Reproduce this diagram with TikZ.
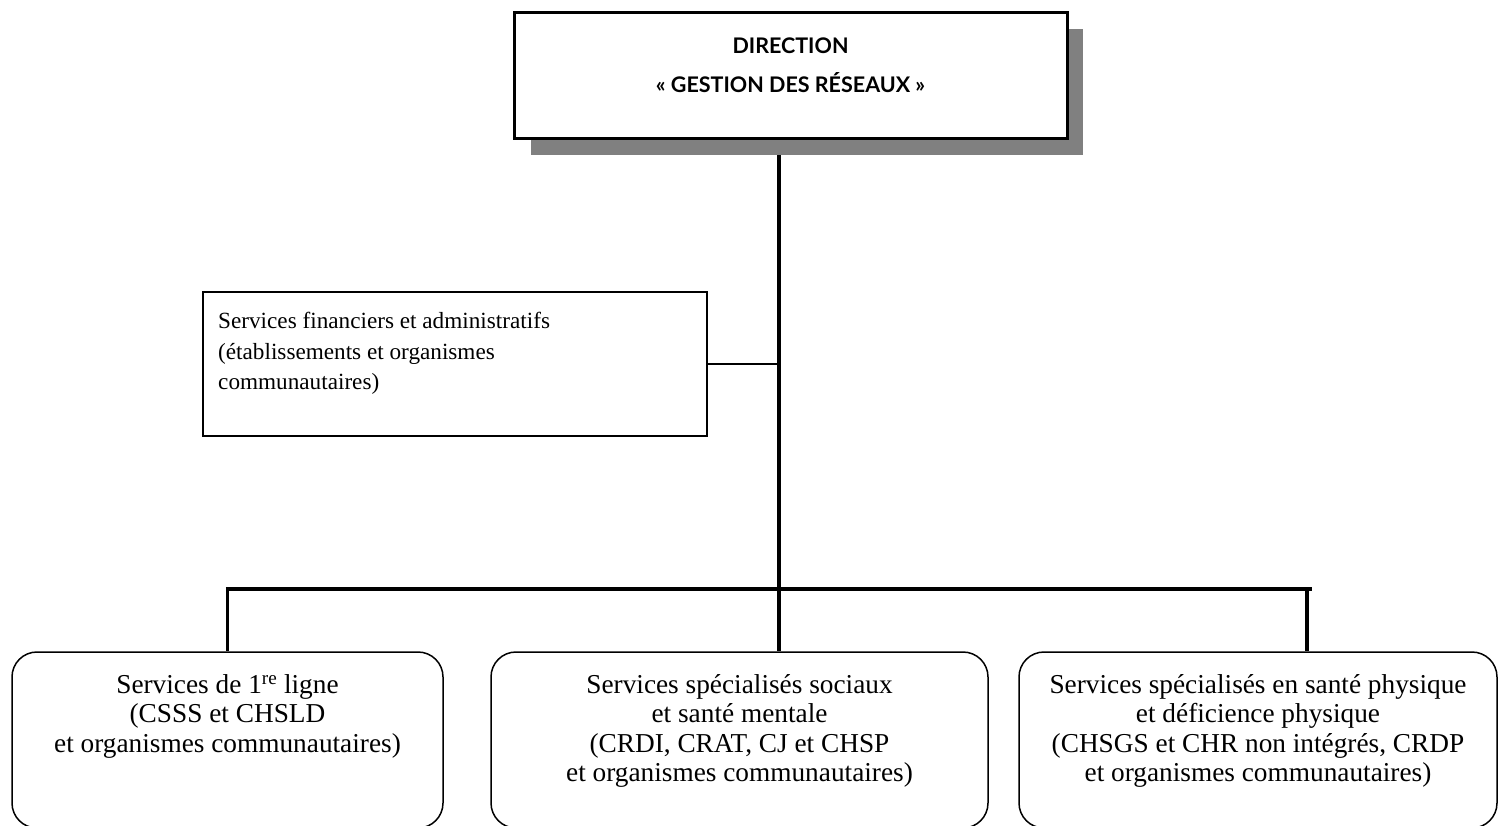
\documentclass[tikz,border=0pt]{standalone}
\usepackage{fontspec}
\setmainfont{Liberation Serif}
\newfontfamily\dirfont{Lato}
\begin{document}
\begin{tikzpicture}[x=1pt,y=-1pt,
  thickline/.style={line width=3.5pt},
  thinline/.style={line width=1.5pt},
  shadowcol/.style={fill=black!50},
  topbox/.style={draw, line width=3pt, fill=white, minimum width=553pt, minimum height=126pt, inner sep=0pt},
  finbox/.style={draw, thinline, minimum width=504pt, minimum height=144pt, inner sep=0pt},
  servbox/.style={draw, thinline, rounded corners=25pt, minimum height=176pt, inner sep=0pt},
  dirtext/.style={font=\dirfont\bfseries\fontsize{21.5}{25}\selectfont, anchor=base, inner sep=0pt},
  fintext/.style={font=\fontsize{23.2}{30.5}\selectfont, align=left, anchor=north west, inner sep=0pt},
  servtext/.style={font=\fontsize{27.3}{29.5}\selectfont, align=center, anchor=north, inner sep=0pt}
]
\useasboundingbox (0,0) rectangle (1504,825);
\clip (0,0) rectangle (1504,825);

% coordinates
\coordinate (tj) at (779,589);
\coordinate (barend) at (1312,589);
\coordinate (d3) at (1307,589);

% service boxes
\node[servbox, minimum width=431pt] (b1) at (227.5,740) {};
\node[servbox, minimum width=497pt] (b2) at (739.5,740) {};
\node[servbox, minimum width=478pt] (b3) at (1258,740) {};

% left box
\node[finbox] (fin) at (455,364) {};

% top box with shadow
\node[topbox, draw=none, fill=none] (top) at (790.5,75) {};
\draw[thickline] (top.south -| tj) -- (tj);
\fill[shadowcol] (531,29) rectangle (1083,155);
\node[topbox] (topbox) at (790.5,75) {};
\node[dirtext] at (790.5,53) {DIRECTION};
\node[dirtext] at (790.5,92) {« GESTION DES RÉSEAUX »};

% connectors
\draw[thinline] (fin.east) -- (fin.east -| tj);
\draw[thickline] ([xshift=-1.75pt]b1.north |- tj) -- (barend);
\draw[thickline] (b1.north |- tj) -- (b1.north);
\draw[thickline] (tj) -- (b2.north -| tj);
\draw[thickline] (d3) -- (b3.north -| d3);

% texts
\node[fintext] at (218,312) {Services financiers et administratifs\\(établissements et organismes\\communautaires)};
\node[servtext] at (b1.north |- 0,674) {Services de 1\textsuperscript{re} ligne\\(CSSS et CHSLD\\et organismes communautaires)};
\node[servtext] at (b2.north |- 0,674) {Services spécialisés sociaux\\et santé mentale\\(CRDI, CRAT, CJ et CHSP\\et organismes communautaires)};
\node[servtext] at (b3.north |- 0,674) {Services spécialisés en santé physique\\et déficience physique\\(CHSGS et CHR non intégrés, CRDP\\et organismes communautaires)};
\end{tikzpicture}
\end{document}
